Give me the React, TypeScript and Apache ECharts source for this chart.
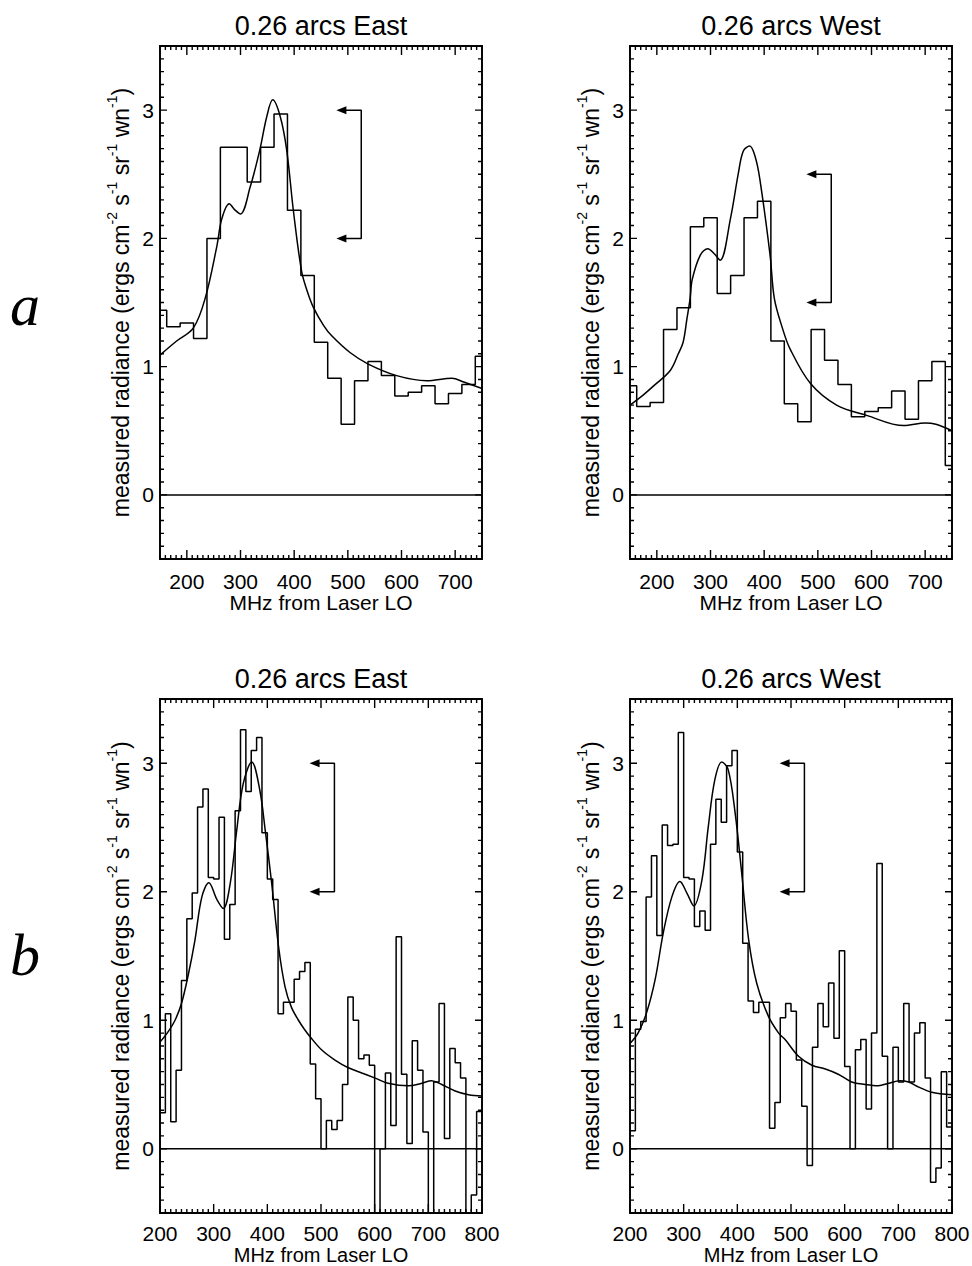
import React, { useEffect, useRef } from 'react';
import * as echarts from 'echarts';

const FONT = "'Liberation Sans', Arial, Helvetica, sans-serif";
const SERIF = "'Liberation Serif', 'Times New Roman', serif";

// ---------- Row a: 25 MHz channels (channel centres) ----------
const topChannelMHz = [150, 175, 200, 225, 250, 275, 300, 325, 350, 375, 400, 425, 450, 475, 500, 525, 550, 575, 600, 625, 650, 675, 700, 725, 750];
const topEastRadiance = [1.44, 1.31, 1.34, 1.22, 2.0, 2.71, 2.71, 2.44, 2.71, 2.97, 2.22, 1.71, 1.19, 0.91, 0.55, 0.89, 1.04, 0.93, 0.77, 0.8, 0.85, 0.71, 0.79, 0.86, 1.08];
const topWestRadiance = [0.85, 0.69, 0.72, 1.29, 1.46, 2.09, 2.16, 1.57, 1.71, 2.16, 2.29, 1.2, 0.71, 0.57, 1.29, 1.05, 0.86, 0.61, 0.65, 0.68, 0.81, 0.59, 0.89, 1.04, 0.23];

// ---------- Row b: 10 MHz channels (channel edges) ----------
const bottomChannelEdgesMHz = [200, 210, 220, 230, 240, 250, 260, 270, 280, 290, 300, 310, 320, 330, 340, 350, 360, 370, 380, 390, 400, 410, 420, 430, 440, 450, 460, 470, 480, 490, 500, 510, 520, 530, 540, 550, 560, 570, 580, 590, 600, 610, 620, 630, 640, 650, 660, 670, 680, 690, 700, 710, 720, 730, 740, 750, 760, 770, 780, 790, 800];
const bottomEastRadiance = [
  0.28, 1.05, 0.21, 0.61, 1.31, 1.79, 1.99, 2.66, 2.8, 2.11,
  2.1, 2.58, 1.63, 1.9, 2.63, 3.26, 2.78, 3.1, 3.2, 2.46,
  2.1, 1.94, 1.05, 1.14, 1.14, 1.32, 1.38, 1.45, 0.66, 0.39,
  0.0, 0.22, 0.15, 0.22, 0.5, 1.18, 1.0, 0.7, 0.73, 0.65,
  -0.7, 0.0, 0.59, 0.18, 1.65, 0.58, 0.04, 0.84, 0.61, 0.13,
  -0.7, 0.52, 1.13, 0.08, 0.78, 0.67, 0.55, -0.7, -0.36, 0.29,
];
const bottomWestRadiance = [
  0.14, 0.93, 0.99, 1.96, 2.28, 1.66, 2.52, 2.36, 2.37, 3.24,
  2.11, 2.1, 1.73, 1.85, 1.7, 2.37, 2.72, 2.54, 2.98, 3.1,
  2.31, 1.6, 1.15, 1.06, 1.14, 1.14, 0.16, 0.36, 1.02, 1.13,
  1.07, 0.69, 0.33, -0.13, 0.79, 1.13, 0.95, 1.29, 0.86, 1.54,
  0.64, 0.0, 0.77, 0.85, 0.31, 0.9, 2.22, 0.72, 0.0, 0.79,
  0.52, 1.13, 0.52, 0.9, 0.98, 0.55, -0.26, -0.15, 0.6, 0.17,
];

// ---------- Fitted model curves [MHz, radiance] ----------
const topEastFit = [[150, 1.09], [181, 1.2], [212, 1.3], [234, 1.53], [256, 1.94], [265, 2.15], [279, 2.27], [290, 2.22], [300, 2.19], [318, 2.4], [336, 2.69], [349, 2.95], [360, 3.08], [374, 2.95], [386, 2.69], [399, 2.2], [414, 1.74], [425, 1.58], [436, 1.46], [455, 1.32], [470, 1.24], [504, 1.11], [538, 1.02], [591, 0.93], [647, 0.89], [694, 0.91], [716, 0.88], [750, 0.83]];
const topWestFit = [[150, 0.7], [175, 0.78], [194, 0.85], [225, 0.97], [240, 1.1], [249, 1.19], [256, 1.37], [262, 1.53], [266, 1.68], [281, 1.87], [295, 1.92], [307, 1.88], [318, 1.83], [337, 2.15], [352, 2.51], [361, 2.68], [373, 2.72], [383, 2.64], [392, 2.46], [411, 1.87], [419, 1.53], [434, 1.3], [448, 1.14], [486, 0.87], [535, 0.7], [591, 0.62], [660, 0.54], [700, 0.56], [720, 0.55], [750, 0.5]];
const bottomEastFit = [[200, 0.83], [215, 0.91], [228, 1.0], [240, 1.13], [253, 1.36], [265, 1.62], [278, 1.96], [291, 2.07], [306, 1.94], [318, 1.87], [331, 2.07], [343, 2.48], [355, 2.84], [371, 3.01], [386, 2.79], [396, 2.48], [408, 2.07], [421, 1.57], [433, 1.26], [445, 1.1], [458, 1.0], [469, 0.93], [480, 0.87], [501, 0.77], [526, 0.69], [551, 0.63], [576, 0.59], [601, 0.55], [625, 0.51], [663, 0.49], [688, 0.51], [706, 0.53], [725, 0.5], [750, 0.45], [775, 0.42], [800, 0.41]];
const bottomWestFit = [[200, 0.82], [215, 0.9], [231, 1.06], [247, 1.32], [262, 1.68], [278, 1.96], [293, 2.08], [306, 1.99], [319, 1.89], [334, 2.09], [346, 2.51], [358, 2.87], [371, 3.01], [383, 2.95], [396, 2.61], [408, 2.15], [421, 1.63], [436, 1.29], [458, 1.03], [477, 0.9], [489, 0.85], [514, 0.72], [539, 0.65], [564, 0.62], [588, 0.58], [613, 0.52], [638, 0.5], [663, 0.49], [682, 0.51], [703, 0.53], [719, 0.52], [738, 0.48], [762, 0.44], [800, 0.42]];

// ---------- Bracket arrows (MHz of stem / arrow-head centre, radiance levels) ----------
const arrowStemMHz = 525;
const arrowHeadMHz = 488; // head centre; tip at ~480 MHz
const arrowLevels = [[3, 2], [2.5, 1.5], [3, 2], [3, 2]];

// ---------- Axis ticks ----------
const yMajorTicks = [0, 1, 2, 3];
const yMinorStep = 0.1;
const xMinorStep = 10;
const topXMajorTicks = [200, 300, 400, 500, 600, 700];
const bottomXMajorTicks = [200, 300, 400, 500, 600, 700, 800];

const panelTitles = ['0.26 arcs East', '0.26 arcs West', '0.26 arcs East', '0.26 arcs West'];
const xAxisName = 'MHz from Laser LO';
const yAxisName = 'measured radiance (ergs cm{s|-2} s{s|-1} sr{s|-1} wn{s|-1})';
const rowLetters = ['a', 'b'];
const yRange = [-0.5, 3.5];

type Panel = {
  title: string; left: number; top: number; height: number; labelMargin: number; nameGap: number; nameSize: number;
  xMajor: number[]; xMin: number; xMax: number; step: any[]; stepMode: string; fit: number[][]; arrow: number[];
};

function buildPanels(): Panel[] {
  const topStepsE = topChannelMHz.map((f, i) => [f, topEastRadiance[i]]);
  const topStepsW = topChannelMHz.map((f, i) => [f, topWestRadiance[i]]);
  const botE = bottomChannelEdgesMHz.map((f, i) => [f, bottomEastRadiance[Math.min(i, bottomEastRadiance.length - 1)]]);
  const botW = bottomChannelEdgesMHz.map((f, i) => [f, bottomWestRadiance[Math.min(i, bottomWestRadiance.length - 1)]]);
  return [
    { title: panelTitles[0], left: 160, top: 46, height: 513, labelMargin: 12, nameGap: 33, nameSize: 21, xMajor: topXMajorTicks, xMin: 150, xMax: 750, step: topStepsE, stepMode: 'middle', fit: topEastFit, arrow: arrowLevels[0] },
    { title: panelTitles[1], left: 630, top: 46, height: 513, labelMargin: 12, nameGap: 33, nameSize: 21, xMajor: topXMajorTicks, xMin: 150, xMax: 750, step: topStepsW, stepMode: 'middle', fit: topWestFit, arrow: arrowLevels[1] },
    { title: panelTitles[2], left: 160, top: 699, height: 514, labelMargin: 10, nameGap: 32, nameSize: 20, xMajor: bottomXMajorTicks, xMin: 200, xMax: 800, step: botE, stepMode: 'end', fit: bottomEastFit, arrow: arrowLevels[2] },
    { title: panelTitles[3], left: 630, top: 699, height: 514, labelMargin: 10, nameGap: 32, nameSize: 20, xMajor: bottomXMajorTicks, xMin: 200, xMax: 800, step: botW, stepMode: 'end', fit: bottomWestFit, arrow: arrowLevels[3] },
  ];
}

const BLACK = '#000';
const PANEL_W = 322;
const MAJOR_X_TICK_PX = 9;
const MINOR_TICK_PX = 4;
const MAJOR_Y_TICK_PX = 7;

function rangeSteps(a: number, b: number, step: number) {
  const out: number[] = [];
  const n = Math.round((b - a) / step);
  for (let i = 0; i <= n; i++) out.push(Math.round((a + i * step) * 1000) / 1000);
  return out;
}

// comb polylines along each edge; tick lengths converted from px into data units of the axis
function tickCombs(p: Panel) {
  const yPerPx = (yRange[1] - yRange[0]) / p.height;
  const xPerPx = (p.xMax - p.xMin) / PANEL_W;
  const isMajor = (list: number[], v: number) => list.some((m) => Math.abs(m - v) < 1e-6);
  const xs = rangeSteps(p.xMin, p.xMax, xMinorStep);
  const ys = rangeSteps(yRange[0], yRange[1], yMinorStep);
  const bottom: number[][] = [];
  const top: number[][] = [];
  xs.forEach((v) => {
    const len = (isMajor(p.xMajor, v) ? MAJOR_X_TICK_PX : MINOR_TICK_PX) * yPerPx;
    bottom.push([v, yRange[0]], [v, yRange[0] + len], [v, yRange[0]]);
    top.push([v, yRange[1]], [v, yRange[1] - len], [v, yRange[1]]);
  });
  const left: number[][] = [];
  const right: number[][] = [];
  ys.forEach((v) => {
    const len = (isMajor(yMajorTicks, v) ? MAJOR_Y_TICK_PX : MINOR_TICK_PX) * xPerPx;
    left.push([p.xMin, v], [p.xMin + len, v], [p.xMin, v]);
    right.push([p.xMax, v], [p.xMax - len, v], [p.xMax, v]);
  });
  return [bottom, top, left, right];
}

function buildOption() {
  const panels = buildPanels();
  const grid: any[] = [];
  const xAxis: any[] = [];
  const yAxis: any[] = [];
  const series: any[] = [];
  const axisLineOn = { show: true, onZero: false, lineStyle: { color: BLACK, width: 1.8 } };
  const noTick = { show: false };
  const noLabel = { show: false };
  const intLabel = (v: number) => (Math.abs(v - Math.round(v)) < 1e-6 ? String(Math.round(v)) : '');
  const hundredLabel = (v: number) => (Math.abs(v / 100 - Math.round(v / 100)) < 1e-6 ? String(Math.round(v)) : '');

  panels.forEach((p, g) => {
    grid.push({ left: p.left, top: p.top, width: PANEL_W, height: p.height, containLabel: false, outerBoundsMode: 'none' });
    const common = { gridIndex: g, type: 'value', splitLine: { show: false } };
    const xc = { ...common, min: p.xMin, max: p.xMax };
    const yc = { ...common, min: yRange[0], max: yRange[1] };
    const xi = xAxis.length;
    const yi = yAxis.length;
    xAxis.push({
      ...xc, position: 'bottom', splitNumber: 6, axisLine: axisLineOn, axisTick: noTick,
      axisLabel: { show: true, margin: p.labelMargin, fontSize: 21, color: BLACK, fontFamily: FONT, formatter: hundredLabel },
      name: xAxisName, nameLocation: 'middle', nameGap: p.nameGap, nameMoveOverlap: false,
      nameTextStyle: { fontSize: p.nameSize, color: BLACK, fontFamily: FONT },
    });
    xAxis.push({ ...xc, position: 'top', splitNumber: 6, axisLine: axisLineOn, axisTick: noTick, axisLabel: noLabel });
    yAxis.push({
      ...yc, position: 'left', splitNumber: 4, axisLine: axisLineOn, axisTick: noTick,
      axisLabel: { show: true, margin: 6, fontSize: 21, color: BLACK, fontFamily: FONT, formatter: intLabel },
      name: yAxisName, nameLocation: 'middle', nameGap: 24, nameRotate: 90, nameMoveOverlap: false,
      nameTextStyle: {
        fontSize: 23, color: BLACK, fontFamily: FONT, lineHeight: 31,
        rich: { s: { fontSize: 14, lineHeight: 15, verticalAlign: 'top', color: BLACK, fontFamily: FONT } },
      },
    });
    yAxis.push({ ...yc, position: 'right', splitNumber: 4, axisLine: axisLineOn, axisTick: noTick, axisLabel: noLabel });

    const ax = { xAxisIndex: xi, yAxisIndex: yi };

    tickCombs(p).forEach((comb, k) => {
      series.push({
        ...ax, type: 'line', name: 'ticks' + k, data: comb, showSymbol: false, symbol: 'none',
        clip: false, silent: true, lineStyle: { color: BLACK, width: 1.4 },
      });
    });

    series.push({
      ...ax, type: 'line', name: 'channels', data: p.step, step: p.stepMode, showSymbol: false, symbol: 'none',
      clip: true, lineStyle: { color: BLACK, width: 1.5 }, silent: true,
    });
    series.push({
      ...ax, type: 'line', name: 'fit', data: p.fit, smooth: 0.35, showSymbol: false, symbol: 'none',
      clip: true, lineStyle: { color: BLACK, width: 1.5 }, silent: true,
    });
    series.push({
      ...ax, type: 'line', name: 'zero', data: [[p.xMin, 0], [p.xMax, 0]], showSymbol: false, symbol: 'none',
      lineStyle: { color: BLACK, width: 1.5 }, silent: true,
    });
    const head = { symbol: 'triangle', symbolSize: [8, 10], symbolRotate: 90 };
    series.push({
      ...ax, type: 'line', name: 'arrow', showSymbol: true, symbol: 'none', silent: true,
      itemStyle: { color: BLACK }, lineStyle: { color: BLACK, width: 1.5 },
      data: [
        { value: [arrowHeadMHz, p.arrow[0]], ...head },
        { value: [arrowStemMHz, p.arrow[0]] },
        { value: [arrowStemMHz, p.arrow[1]] },
        { value: [arrowHeadMHz, p.arrow[1]], ...head },
      ],
    });
  });

  const graphic: any[] = panels.map((p) => ({
    type: 'text', x: p.left + PANEL_W / 2, y: p.top - 20, silent: true,
    style: { text: p.title, fontSize: 27, fontFamily: FONT, fill: BLACK, align: 'center', verticalAlign: 'middle' },
  }));
  graphic.push({
    type: 'text', x: 10, y: 305, silent: true,
    style: { text: rowLetters[0], fontSize: 60, fontStyle: 'italic', fontFamily: SERIF, fill: BLACK, align: 'left', verticalAlign: 'middle' },
  });
  graphic.push({
    type: 'text', x: 10, y: 955, silent: true,
    style: { text: rowLetters[1], fontSize: 60, fontStyle: 'italic', fontFamily: SERIF, fill: BLACK, align: 'left', verticalAlign: 'middle' },
  });

  return {
    animation: false,
    backgroundColor: '#fff',
    grid, xAxis, yAxis, series, graphic,
  };
}

export default function App() {
  const ref = useRef<HTMLDivElement>(null);
  useEffect(() => {
    if (!ref.current) return;
    const chart = echarts.init(ref.current, undefined, { renderer: 'svg' });
    chart.setOption(buildOption() as any);
    return () => chart.dispose();
  }, []);
  return (
    <div
      ref={ref}
      style={{ position: 'absolute', left: 0, top: 0, width: 972, height: 1266, background: '#fff' }}
    />
  );
}
